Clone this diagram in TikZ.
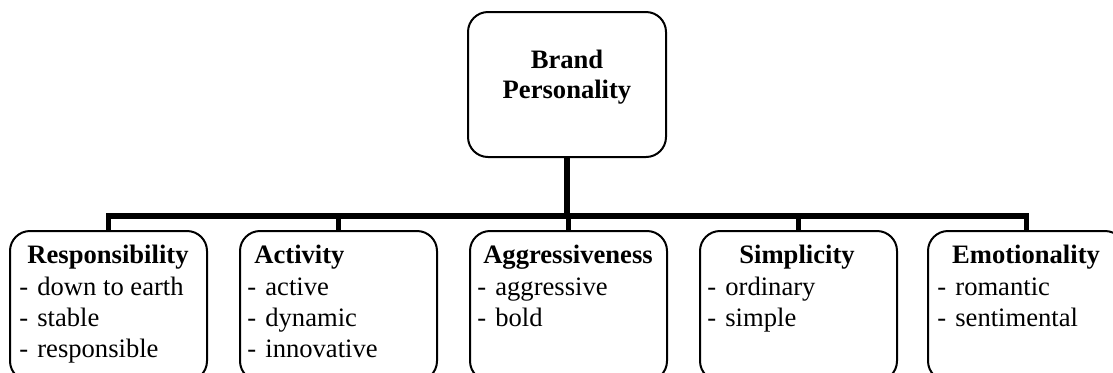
\documentclass[tikz,border=0pt]{standalone}
\usepackage{fontspec}
\setmainfont{Liberation Serif}
\begin{document}
\begin{tikzpicture}[x=0.5pt,y=-0.5pt,
  box/.style={draw, line width=1pt, rounded corners=10pt, inner sep=0pt, minimum width=98.5pt, minimum height=75pt},
  topbox/.style={draw, line width=1pt, rounded corners=10pt, inner sep=0pt, minimum width=99pt, minimum height=72.5pt},
  txt/.style={inner sep=0pt, font=\fontsize{13.3}{15.5}\selectfont},
  ttl/.style={inner sep=0pt, font=\fontsize{13.3}{15.5}\selectfont\bfseries, anchor=base},
  item/.style={txt, anchor=base west},
  bar/.style={line width=2.6pt}]
\useasboundingbox (0,0) rectangle (1113,372);
\clip (0,0) rectangle (1113,372);
% top box
\node[topbox] (bp) at (567,84.5) {};
\node[ttl] (bp1) at (567,68) {Brand};
\node[ttl] (bp2) at (567,98) {Personality};
% bottom boxes
\node[box] (b1) at (108.5,306) {};
\node[box] (b2) at (338.5,306) {};
\node[box] (b3) at (568.5,306) {};
\node[box] (b4) at (798.5,306) {};
\node[box] (b5) at (1026.5,306) {};
% connectors
\coordinate (j) at (567,216);
\draw[bar] (bp.south) -- (j);
\foreach \b in {b1,b2,b3,b4,b5} \draw[bar] (\b.north) |- (j);
% titles
\node[ttl] (t1) at (108,263) {Responsibility};
\node[ttl, anchor=base west] (t2) at (254,263) {Activity};
\node[ttl] (t3) at (568,263) {Aggressiveness};
\node[ttl] (t4) at (797,263) {Simplicity};
\node[ttl] (t5) at (1026,263) {Emotionality};
% items
\node[item] (i11) at (19,295) {\makebox[9pt][l]{-}down to earth};
\node[item] (i12) at (19,326) {\makebox[9pt][l]{-}stable};
\node[item] (i13) at (19,357) {\makebox[9pt][l]{-}responsible};
\node[item] (i21) at (247,295) {\makebox[9pt][l]{-}active};
\node[item] (i22) at (247,326) {\makebox[9pt][l]{-}dynamic};
\node[item] (i23) at (247,357) {\makebox[9pt][l]{-}innovative};
\node[item] (i31) at (477,295) {\makebox[9pt][l]{-}aggressive};
\node[item] (i32) at (477,326) {\makebox[9pt][l]{-}bold};
\node[item] (i41) at (707,295) {\makebox[9pt][l]{-}ordinary};
\node[item] (i42) at (707,326) {\makebox[9pt][l]{-}simple};
\node[item] (i51) at (937,295) {\makebox[9pt][l]{-}romantic};
\node[item] (i52) at (937,326) {\makebox[9pt][l]{-}sentimental};
\end{tikzpicture}
\end{document}
